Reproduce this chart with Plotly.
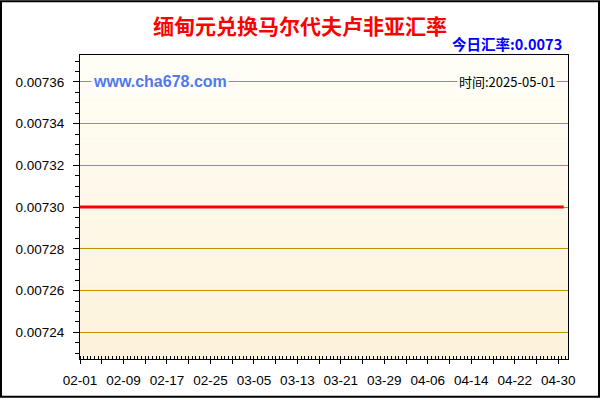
import pandas as pd
import plotly.graph_objects as go

# ---------------- data ----------------
title_text = "缅甸元兑换马尔代夫卢非亚汇率"
today_rate_text = "今日汇率:0.0073"
watermark_text = "www.cha678.com"
time_text = "时间:2025-05-01"

dates = pd.date_range("2025-02-01", "2025-05-01", freq="D")
rates = [
    0.0073, 0.0073, 0.0073, 0.0073, 0.0073, 0.0073, 0.0073, 0.0073, 0.0073, 0.0073,
    0.0073, 0.0073, 0.0073, 0.0073, 0.0073, 0.0073, 0.0073, 0.0073, 0.0073, 0.0073,
    0.0073, 0.0073, 0.0073, 0.0073, 0.0073, 0.0073, 0.0073, 0.0073, 0.0073, 0.0073,
    0.0073, 0.0073, 0.0073, 0.0073, 0.0073, 0.0073, 0.0073, 0.0073, 0.0073, 0.0073,
    0.0073, 0.0073, 0.0073, 0.0073, 0.0073, 0.0073, 0.0073, 0.0073, 0.0073, 0.0073,
    0.0073, 0.0073, 0.0073, 0.0073, 0.0073, 0.0073, 0.0073, 0.0073, 0.0073, 0.0073,
    0.0073, 0.0073, 0.0073, 0.0073, 0.0073, 0.0073, 0.0073, 0.0073, 0.0073, 0.0073,
    0.0073, 0.0073, 0.0073, 0.0073, 0.0073, 0.0073, 0.0073, 0.0073, 0.0073, 0.0073,
    0.0073, 0.0073, 0.0073, 0.0073, 0.0073, 0.0073, 0.0073, 0.0073, 0.0073, 0.0073,
]

x_label_dates = ["2025-02-01", "2025-02-09", "2025-02-17", "2025-02-25", "2025-03-05",
                 "2025-03-13", "2025-03-21", "2025-03-29", "2025-04-06", "2025-04-14",
                 "2025-04-22", "2025-04-30"]
x_tick_labels = ["02-01", "02-09", "02-17", "02-25", "03-05", "03-13", "03-21",
                 "03-29", "04-06", "04-14", "04-22", "04-30"]
y_tick_values = [0.00724, 0.00726, 0.00728, 0.00730, 0.00732, 0.00734, 0.00736]
y_tick_labels = ["0.00724", "0.00726", "0.00728", "0.00730", "0.00732", "0.00734", "0.00736"]

x_range = ["2025-02-01", "2025-05-01 19:00"]
y_range = [0.0072272, 0.0073729]

# ---------------- build ticks ----------------
major_dates = pd.date_range("2025-02-01", "2025-04-30", freq="4D")
label_map = dict(zip(pd.to_datetime(x_label_dates), x_tick_labels))
major_text = [label_map.get(d, "") for d in major_dates]

GRID = "#C29000"
TICK_FONT = dict(family="Liberation Sans, Arial, sans-serif", size=13.5, color="#000000")

fig = go.Figure()
fig.add_trace(go.Scatter(
    x=dates, y=rates, mode="lines",
    line=dict(color="#FF0000", width=3),
    hoverinfo="skip", showlegend=False,
))

# ---------------- gradient background (decoration) ----------------
shapes = []
n = 40
top_c = (255, 254, 246)
bot_c = (253, 242, 219)
for i in range(n):
    t = i / (n - 1)
    c = tuple(round(bot_c[k] + (top_c[k] - bot_c[k]) * t) for k in range(3))
    shapes.append(dict(
        type="rect", xref="paper", yref="paper",
        x0=0, x1=1, y0=i / n, y1=(i + 1) / n,
        fillcolor="rgb(%d,%d,%d)" % c, line=dict(width=0), layer="below",
    ))

# outer frame of the picture
L, R, T, B = 80, 32, 55, 39
W, H = 600, 400
pw, ph = W - L - R, H - T - B
shapes.append(dict(
    type="rect", xref="paper", yref="paper",
    x0=(1 - L) / pw, x1=(W - 1 - L) / pw,
    y0=(H - B - (H - 1)) / ph, y1=(H - B - 1) / ph,
    line=dict(color="#000000", width=2), fillcolor="rgba(0,0,0,0)", layer="above",
))

fig.update_layout(
    width=W, height=H,
    margin=dict(l=L, r=R, t=T, b=B, pad=0),
    paper_bgcolor="#FFFFFF",
    plot_bgcolor="rgb(253,242,219)",
    showlegend=False,
    hovermode=False,
    shapes=shapes,
    title=dict(
        text="<b>%s</b>" % title_text,
        font=dict(family="Noto Sans CJK SC", size=21, color="#FF0000"),
        x=0.5, xref="container", xanchor="center",
        y=1 - 27 / H, yref="container", yanchor="middle",
    ),
    xaxis=dict(
        type="date", range=x_range,
        tickmode="array", tickvals=major_dates, ticktext=major_text,
        ticks="outside", ticklen=4, tickcolor="#000000", tickwidth=1,
        ticklabelstandoff=5,
        tickfont=TICK_FONT,
        showgrid=False, zeroline=False,
        showline=True, linecolor="#000000", linewidth=1, mirror=True,
        minor=dict(ticks="inside", ticklen=3, tickcolor="#000000",
                   tick0="2025-02-01", dtick=16 * 3600 * 1000, showgrid=False),
    ),
    xaxis2=dict(
        type="date", range=x_range, overlaying="x", side="top", anchor="y",
        tickmode="array", tickvals=major_dates, ticktext=["" for _ in major_dates],
        ticks="inside", ticklen=4, tickcolor="#000000",
        showticklabels=False, showgrid=False, zeroline=False, showline=False,
        minor=dict(ticks="inside", ticklen=2, tickcolor="#000000",
                   tick0="2025-02-01", dtick=16 * 3600 * 1000, showgrid=False),
    ),
    yaxis=dict(
        range=y_range,
        tickmode="array", tickvals=y_tick_values, ticktext=y_tick_labels,
        ticks="outside", ticklen=6, tickcolor="#000000",
        ticklabelstandoff=6,
        tickfont=TICK_FONT,
        showgrid=True, gridcolor=GRID, gridwidth=1,
        zeroline=False,
        showline=True, linecolor="#000000", linewidth=1, mirror=True,
        minor=dict(ticks="outside", ticklen=4, tickcolor="#000000",
                   tick0=0.00724, dtick=0.000005, showgrid=False),
    ),
    yaxis2=dict(
        range=y_range, overlaying="y", side="right", anchor="x",
        tickmode="linear", tick0=0.00724, dtick=0.000005,
        ticks="inside", ticklen=3, tickcolor="#000000",
        showticklabels=False, showgrid=False, zeroline=False, showline=False,
    ),
    annotations=[
        dict(
            text="<b>%s</b>" % today_rate_text,
            xref="paper", yref="paper", x=1, y=1,
            xanchor="right", yanchor="middle", xshift=-4, yshift=12,
            showarrow=False,
            font=dict(family="Noto Sans CJK SC", size=14.5, color="#0000FF"),
        ),
        dict(
            text="<b>%s</b>" % watermark_text,
            xref="paper", yref="y", x=0, y=0.00736,
            xanchor="left", yanchor="middle", xshift=11,
            showarrow=False, bgcolor="rgb(255,254,246)", borderpad=1,
            font=dict(family="Liberation Sans, Arial, sans-serif", size=16, color="#5078F0"),
        ),
        dict(
            text=time_text,
            xref="paper", yref="y", x=1, y=0.00736,
            xanchor="right", yanchor="middle", xshift=-11,
            showarrow=False, bgcolor="rgb(255,254,246)", borderpad=1,
            font=dict(family="Noto Sans CJK SC", size=13, color="#000000"),
        ),
    ],
)

fig.write_html(
    "out.html",
    config={"displayModeBar": False, "staticPlot": True},
    post_script="document.body.style.margin='0';document.body.style.overflow='hidden';",
)
